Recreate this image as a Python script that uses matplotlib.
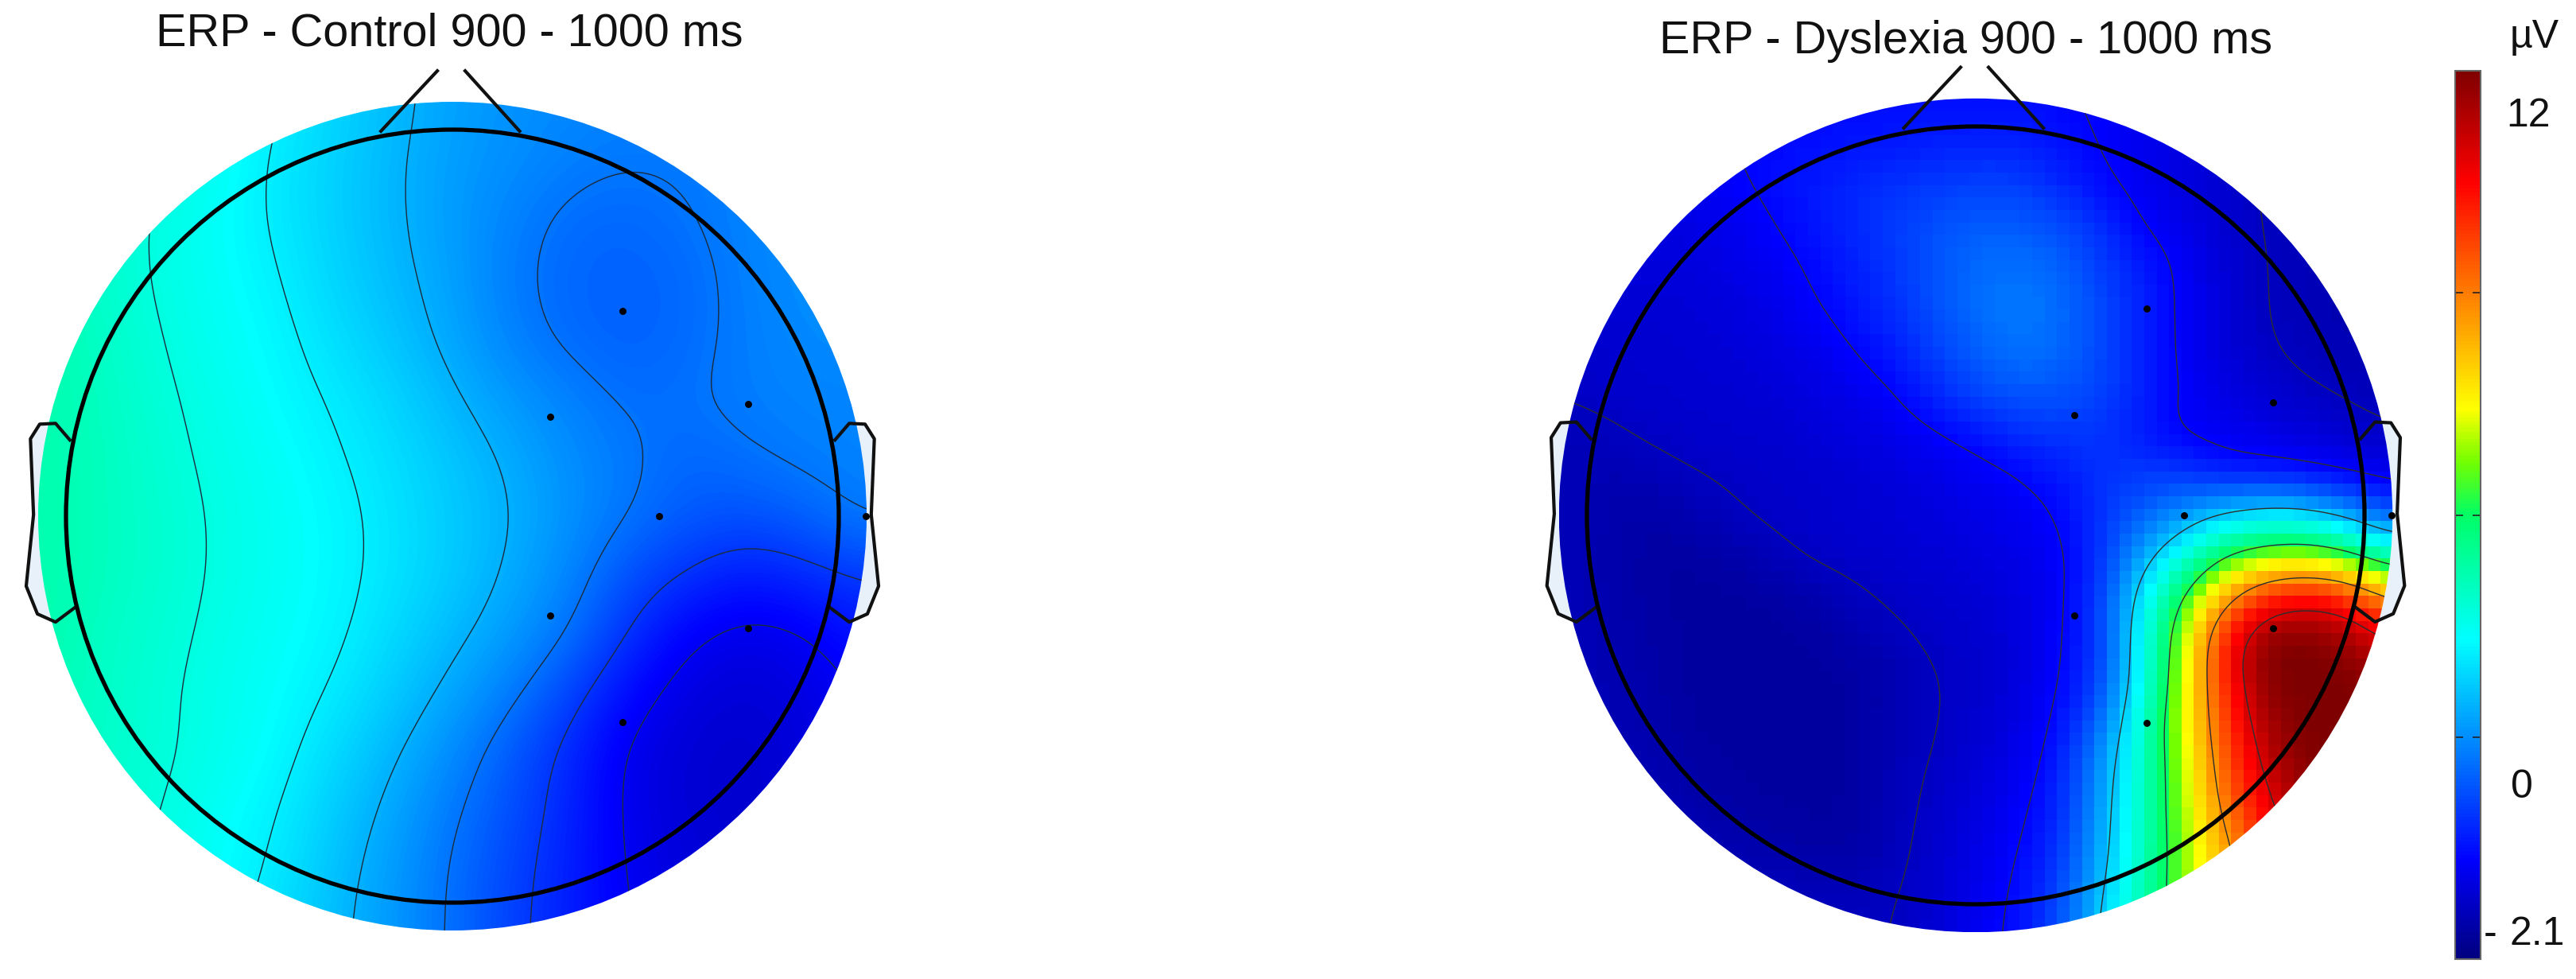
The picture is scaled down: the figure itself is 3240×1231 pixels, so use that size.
import numpy as np
import matplotlib
matplotlib.use('Agg')
from matplotlib import pyplot as plt
from matplotlib.colors import LinearSegmentedColormap
from matplotlib.patches import Circle

plt.rcParams['font.family'] = ['Liberation Sans', 'DejaVu Sans']

W, H = 3240, 1231

# values are positions on the colour bar (0 = bottom, 1 = top), read top row first
control_map = np.array([
    [.399, .399, .392, .377, .349, .32, .295, .27, .255, .245, .24, .24, .24, .24, .24],
    [.413, .406, .392, .37, .34, .315, .29, .265, .25, .235, .226, .23, .24, .245, .25],
    [.428, .406, .385, .363, .342, .315, .29, .265, .238, .215, .21, .222, .24, .25, .255],
    [.428, .406, .385, .367, .349, .32, .295, .27, .232, .21, .205, .212, .237, .25, .255],
    [.435, .413, .39, .37, .356, .33, .305, .275, .24, .215, .205, .215, .235, .245, .25],
    [.435, .417, .395, .377, .359, .343, .32, .29, .262, .24, .218, .222, .235, .24, .24],
    [.435, .42, .399, .381, .367, .349, .33, .305, .28, .25, .232, .21, .222, .235, .24],
    [.435, .42, .403, .385, .37, .356, .335, .31, .287, .255, .227, .20, .19, .205, .235],
    [.435, .42, .403, .385, .37, .356, .335, .31, .28, .245, .19, .16, .135, .15, .17],
    [.435, .413, .399, .381, .367, .353, .325, .295, .265, .225, .16, .108, .09, .10, .13],
    [.428, .413, .395, .377, .363, .343, .31, .275, .235, .18, .12, .085, .075, .085, .11],
    [.42, .41, .395, .377, .359, .325, .29, .25, .20, .15, .095, .075, .07, .08, .10],
    [.413, .406, .39, .367, .349, .31, .275, .23, .19, .145, .095, .075, .07, .08, .10],
    [.406, .399, .385, .363, .342, .30, .265, .22, .18, .14, .10, .08, .075, .08, .09],
    [.399, .392, .377, .359, .33, .295, .26, .22, .175, .14, .104, .085, .08, .08, .09],
])

dyslexia_map = np.array([
    [.10, .10, .10, .10, .10, .11, .118, .12, .122, .125, .125, .125, .118, .11, .10, .095, .09, .08, .075, .07, .07],
    [.095, .097, .10, .105, .116, .12, .125, .13, .135, .14, .145, .145, .128, .112, .098, .085, .072, .058, .052, .05, .05],
    [.09, .09, .092, .098, .108, .122, .135, .148, .16, .17, .175, .175, .15, .12, .10, .085, .07, .056, .05, .047, .047],
    [.085, .085, .085, .088, .095, .112, .13, .15, .17, .19, .205, .205, .19, .16, .11, .095, .075, .056, .05, .045, .045],
    [.08, .08, .08, .082, .09, .10, .118, .14, .165, .195, .215, .225, .21, .175, .14, .105, .08, .058, .05, .045, .045],
    [.075, .075, .075, .077, .082, .09, .11, .128, .155, .19, .22, .235, .22, .185, .145, .105, .08, .058, .05, .045, .045],
    [.07, .07, .072, .074, .078, .085, .095, .113, .14, .175, .205, .225, .215, .185, .145, .105, .08, .062, .05, .047, .047],
    [.062, .067, .07, .072, .074, .077, .085, .095, .112, .15, .185, .20, .195, .18, .145, .11, .09, .075, .063, .055, .05],
    [.05, .055, .063, .068, .07, .072, .077, .085, .095, .11, .13, .155, .165, .165, .135, .105, .10, .09, .08, .07, .06],
    [.05, .045, .05, .058, .063, .066, .07, .075, .082, .09, .10, .113, .135, .155, .17, .165, .13, .125, .115, .10, .09],
    [.05, .042, .035, .045, .056, .065, .068, .072, .077, .083, .09, .10, .114, .16, .20, .25, .31, .34, .33, .27, .19],
    [.052, .042, .032, .03, .035, .05, .064, .068, .072, .077, .083, .09, .105, .15, .27, .38, .51, .56, .58, .53, .42],
    [.052, .042, .032, .03, .03, .03, .04, .054, .064, .07, .076, .084, .105, .16, .34, .51, .70, .85, .89, .85, .72],
    [.052, .045, .035, .03, .03, .03, .03, .04, .054, .064, .07, .08, .11, .155, .36, .57, .85, 1, 1, .98, .9],
    [.052, .047, .037, .03, .03, .03, .03, .03, .045, .059, .067, .08, .113, .16, .36, .58, .84, 1, 1, 1, .98],
    [.053, .05, .04, .03, .03, .03, .03, .03, .045, .059, .07, .085, .12, .20, .40, .60, .80, .97, 1, 1, 1],
    [.053, .052, .045, .034, .03, .03, .03, .03, .05, .062, .075, .095, .13, .25, .40, .58, .78, .93, 1, 1, 1],
    [.054, .054, .05, .04, .034, .03, .03, .03, .052, .065, .082, .105, .14, .26, .41, .57, .75, .89, .98, 1, 1],
    [.055, .055, .054, .05, .042, .037, .033, .03, .054, .068, .09, .112, .15, .27, .41, .56, .70, .84, .95, 1, 1],
    [.055, .055, .055, .055, .055, .055, .05, .05, .058, .07, .095, .118, .17, .29, .42, .56, .68, .8, .9, 1, 1],
    [.055, .055, .055, .055, .055, .055, .055, .055, .06, .072, .10, .122, .18, .31, .43, .56, .68, .8, .9, 1, 1],
])

control_levels = [.105, .165, .225, .285, .345, .388]
dyslexia_levels = [.06, .115, .30, .50, .72, .90]

# head drawing, in units of the head radius
electrode_x = [.44, .253, .765, .535, 1.07, .253, .765, .44]
electrode_y = [.531, .257, .29, 0, 0, -.257, -.29, -.533]
ear_x = [.990, 1.027, 1.068, 1.092, 1.084, 1.103, 1.074, 1.027, .975]
ear_y = [.197, .240, .238, .200, .004, -.181, -.253, -.274, -.235]
nose_left_x = [-.185, -.039]
nose_right_x = [.174, .033]
nose_y = [.996, 1.152]

bar_ticks = [.25, .5, .75]
bar_labels = ['12', '0', '2.1']
bar_label_pos = [146, 990, 1175]
bar_stops = [0, .11, .36, .5, .56, .62, .875, 1]
bar_colors = [(0, 0, .5), (0, 0, 1), (0, 1, 1), (0, 1, .4), (.45, 1, 0), (1, 1, 0), (1, 0, 0), (.5, 0, 0)]


def smooth_grid(grid, n):
    '''
    cubic B-spline along both axes, only so the field draws without facets
    '''
    def along_rows(a, m):
        rows, cols = a.shape
        t = np.linspace(0, rows - 1, m)
        i = np.clip(t.astype(int), 0, rows - 2)
        f = (t - i)[:, None]
        p0 = a[np.clip(i - 1, 0, rows - 1)]
        p1 = a[i]
        p2 = a[i + 1]
        p3 = a[np.clip(i + 2, 0, rows - 1)]
        return ((1 - f) ** 3 * p0 + (3 * f ** 3 - 6 * f ** 2 + 4) * p1
                + (-3 * f ** 3 + 3 * f ** 2 + 3 * f + 1) * p2 + f ** 3 * p3) / 6
    out = along_rows(grid, n)
    out = along_rows(out.T, n).T
    return np.clip(out, 0, 1)


def draw_head(cx, cy, r, values, levels, title, title_x, title_y, interp, line_color):
    half = 1.25 * r
    ax = fig.add_axes([(cx - half) / W, 1 - (cy + half) / H, 2 * half / W, 2 * half / H])
    ax.set_xlim(-1.25, 1.25)
    ax.set_ylim(-1.25, 1.25)
    ax.axis('off')
    rim = 1.072

    # pale ear fill sits under the map
    for side in [-1, 1]:
        ax.fill([side * x for x in ear_x], ear_y, color='#e8f1fa', zorder=1)

    im = ax.imshow(smooth_grid(values, 67), cmap=jet_bar, vmin=0, vmax=1, origin='upper',
                   extent=[-rim, rim, -rim, rim], interpolation=interp, zorder=2)
    disk = Circle((0, 0), rim, transform=ax.transData)
    im.set_clip_path(disk)

    fine = smooth_grid(values, 201)
    xs = np.linspace(-rim, rim, 201)
    cs = ax.contour(xs, xs[::-1], fine, levels=levels, colors=line_color, linewidths=1.0, zorder=3)
    cs.set_clip_path(Circle((0, 0), rim, transform=ax.transData))

    ax.add_patch(Circle((0, 0), 1, fill=False, ec='black', lw=3.8, zorder=5))
    for side in [-1, 1]:
        ax.plot([side * x for x in ear_x], ear_y, color='#111111', lw=3, zorder=4, solid_joinstyle='round')
    ax.plot(nose_left_x, nose_y, color='#111111', lw=3, zorder=4)
    ax.plot(nose_right_x, nose_y, color='#111111', lw=3, zorder=4)
    ax.plot(electrode_x, electrode_y, 'o', color='black', ms=5.4, zorder=6, clip_on=False)
    fig.text(title_x / W, 1 - title_y / H, title, ha='center', va='center', fontsize=41.5, color='#111111')
    return im


jet_bar = LinearSegmentedColormap.from_list('jet_bar', list(zip(bar_stops, bar_colors)), N=256)

fig = plt.figure(figsize=(W / 100, H / 100), dpi=100, facecolor='white')

draw_head(569, 649, 486, control_map, control_levels, 'ERP - Control 900 - 1000 ms', 565, 43,
          'bicubic', '#1c2c3c')
im = draw_head(2485, 648, 489, dyslexia_map, dyslexia_levels, 'ERP - Dyslexia 900 - 1000 ms', 2473, 52,
               'nearest', '#2e2e2e')

cax = fig.add_axes([3088 / W, 1 - 1206 / H, 32 / W, 1117 / H])
cbar = fig.colorbar(im, cax=cax)
cbar.set_ticks(bar_ticks)
cbar.ax.tick_params(axis='y', which='both', direction='in', length=7, width=1.2, left=True, right=True,
                    labelright=False, labelleft=False, color='#222222')
cbar.outline.set_edgecolor('#666666')
cbar.outline.set_linewidth(1.5)

fig.text(3188 / W, 1 - 47 / H, 'µV', ha='center', va='center', fontsize=36, color='#111111')
fig.text(3180 / W, 1 - bar_label_pos[0] / H, bar_labels[0], ha='center', va='center', fontsize=36, color='#111111')
fig.text(3172 / W, 1 - bar_label_pos[1] / H, bar_labels[1], ha='center', va='center', fontsize=36, color='#111111')
fig.text(3191 / W, 1 - bar_label_pos[2] / H, bar_labels[2], ha='center', va='center', fontsize=36, color='#111111')
fig.text(3132 / W, 1 - bar_label_pos[2] / H, '-', ha='center', va='center', fontsize=36, color='#111111')

plt.savefig('out.png', dpi=100)
plt.close()
